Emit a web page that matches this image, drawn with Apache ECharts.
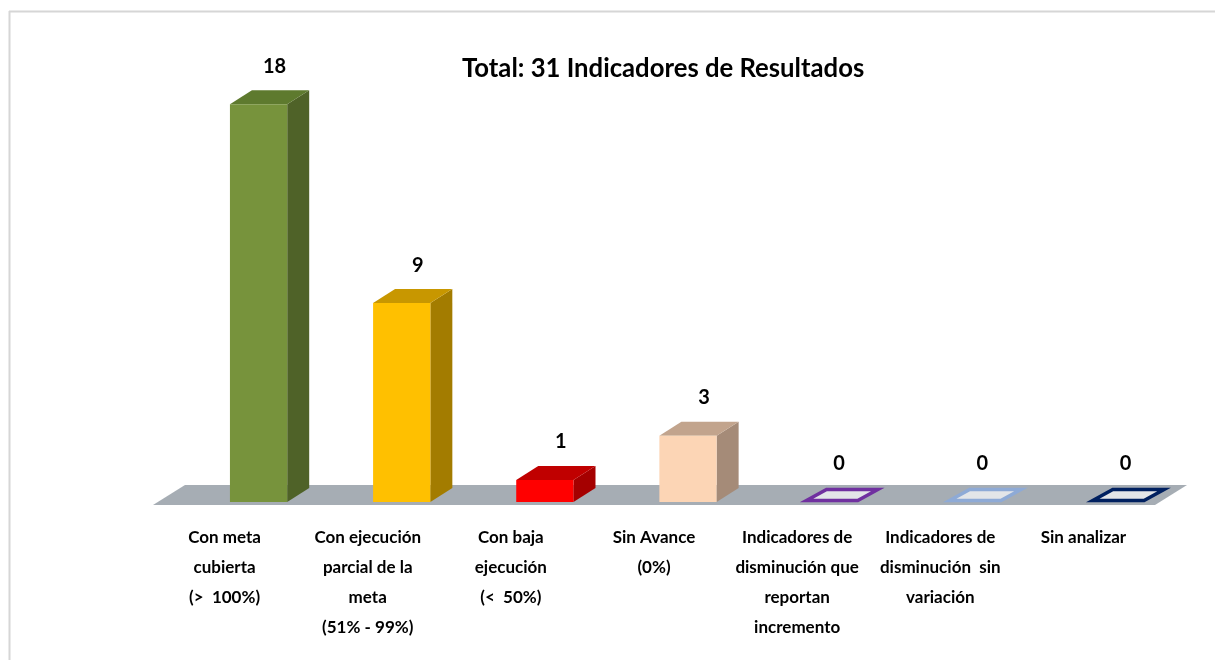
<!DOCTYPE html>
<html>
<head>
    <meta charset="utf-8">
    <title>Indicadores de Resultados</title>
    <script src="https://cdn.jsdelivr.net/npm/echarts@6/dist/echarts.min.js"></script>
    <style>
        html, body { margin: 0; padding: 0; background: #fff; }
    </style>
</head>
<body>
<div id="main" style="width: 1215px;height:660px;"></div>
<script type="text/javascript">
    // datos
    var categorias = [
        'Con meta\ncubierta\n(>  100%)',
        'Con ejecución\nparcial de la\nmeta\n(51% - 99%)',
        'Con baja\nejecución\n(<  50%)',
        'Sin Avance\n(0%)',
        'Indicadores de\ndisminución que\nreportan\nincremento',
        'Indicadores de\ndisminución  sin\nvariación',
        'Sin analizar'
    ];
    var valores = [18, 9, 1, 3, 0, 0, 0];
    var titulo = 'Total: 31 Indicadores de Resultados';

    // colores: frente, lado, techo
    var colores = [
        ['#77933c', '#4f6228', '#5e7a2e'],
        ['#ffc000', '#a37c00', '#c89700'],
        ['#ff0000', '#a50000', '#c00000'],
        ['#fcd5b5', '#a58b78', '#c2a48d'],
        ['#7030a0', '#7030a0', '#7030a0'],
        ['#8eaad6', '#8eaad6', '#8eaad6'],
        ['#002060', '#002060', '#002060']
    ];

    var fuente = 'Lato, "Liberation Sans", sans-serif';

    // profundidad 3D
    var DX = 22, DY = -14;
    var SHIFT = 34, LIFT = 3;

    function renderBar(params, api) {
        var i = api.value(0);
        var v = api.value(1);
        var base = api.coord([i, 0]);
        var top = api.coord([i, v]);
        var band = api.size([1, 0])[0];
        var w = band * 0.4;
        var x0 = base[0] + SHIFT - w / 2;
        var x1 = x0 + w;
        var yb = base[1] - LIFT;
        var yt = top[1] - LIFT;
        var c = colores[i];
        var children = [];
        if (v > 0) {
            children.push({
                type: 'polygon',
                shape: { points: [[x1, yb], [x1 + DX, yb + DY], [x1 + DX, yt + DY], [x1, yt]] },
                style: { fill: c[1] }
            });
            children.push({
                type: 'polygon',
                shape: { points: [[x0, yt], [x1, yt], [x1 + DX, yt + DY], [x0 + DX, yt + DY]] },
                style: { fill: c[2] }
            });
            children.push({
                type: 'rect',
                shape: { x: x0, y: yt, width: w, height: yb - yt },
                style: { fill: c[0] }
            });
        } else {
            children.push({
                type: 'polygon',
                shape: { points: [[x0 + 4, yt - 1.5], [x1 - 2, yt - 1.5], [x1 + DX - 4, yt + DY + 1.5], [x0 + DX + 2, yt + DY + 1.5]] },
                style: { fill: '#e3e5e8', stroke: c[0], lineWidth: 3.5 }
            });
        }
        children.push({
            type: 'text',
            style: {
                text: String(v),
                x: (x0 + x1) / 2 + (v > 0 ? 16 : 8),
                y: yt + DY - 24,
                align: 'center',
                verticalAlign: 'middle',
                font: 'bold 20px ' + fuente,
                fill: '#000'
            }
        });
        return { type: 'group', children: children };
    }

    function renderFloor(params, api) {
        var cs = params.coordSys;
        var y = cs.y + cs.height;
        return {
            type: 'polygon',
            shape: { points: [[cs.x, y], [cs.x + cs.width, y], [cs.x + cs.width + 32, y - 20], [cs.x + 32, y - 20]] },
            style: { fill: '#a6adb4' }
        };
    }

    var myChart = echarts.init(document.getElementById('main'));
    var option = {
        backgroundColor: '#fff',
        animation: false,
        title: {
            text: titulo,
            left: 457,
            top: 51,
            textStyle: { fontFamily: fuente, fontWeight: 'bold', fontSize: 25.7, color: '#000' }
        },
        graphic: [
            { type: 'line', shape: { x1: 9, y1: 11.5, x2: 1215, y2: 11.5 }, style: { stroke: '#d6d6d6', lineWidth: 2 } },
            { type: 'line', shape: { x1: 9.5, y1: 11, x2: 9.5, y2: 660 }, style: { stroke: '#d6d6d6', lineWidth: 2 } }
        ],
        grid: { left: 153, right: 60, top: 63, bottom: 155 },
        xAxis: {
            type: 'category',
            data: categorias,
            axisLine: { show: false },
            axisTick: { show: false },
            axisLabel: {
                interval: 0,
                margin: 18,
                lineHeight: 30,
                fontFamily: fuente,
                fontWeight: 'bold',
                fontSize: 17,
                color: '#000',
                verticalAlign: 'top'
            }
        },
        yAxis: {
            type: 'value',
            min: 0,
            max: 20,
            show: false,
            splitLine: { show: false }
        },
        series: [
            {
                type: 'custom',
                name: 'piso',
                renderItem: renderFloor,
                data: [[0, 0]],
                z: 1
            },
            {
                type: 'custom',
                name: 'Indicadores',
                renderItem: renderBar,
                encode: { x: 0, y: 1 },
                data: valores.map(function (v, i) { return [i, v]; }),
                z: 2
            }
        ]
    };
    myChart.setOption(option);
</script>
</body>
</html>
